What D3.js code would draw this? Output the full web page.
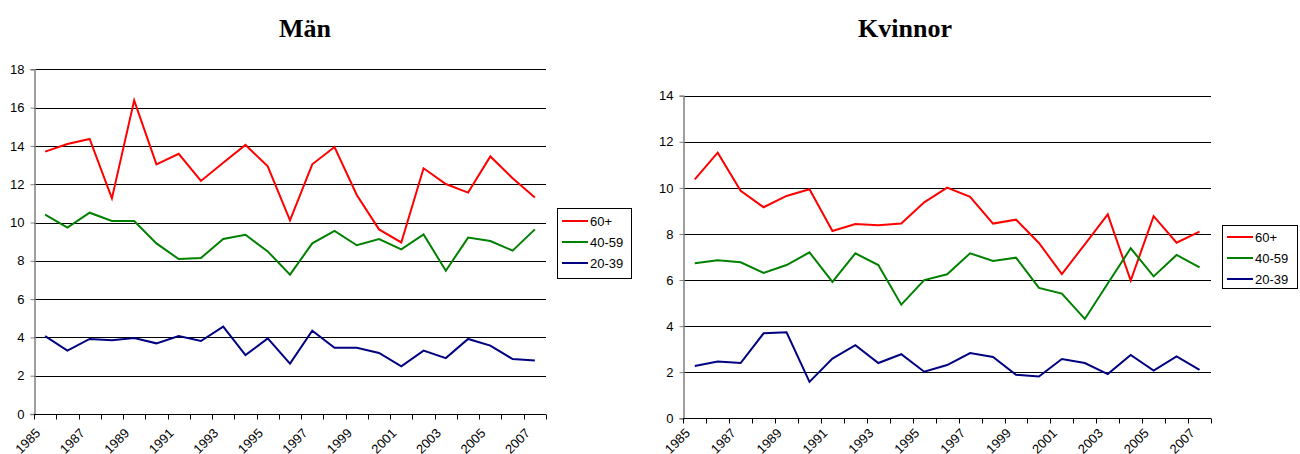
<!DOCTYPE html>
<html>
<head>
<meta charset="utf-8">
<script src="https://cdn.jsdelivr.net/npm/d3@7"></script>
<style>
  html, body { margin: 0; padding: 0; background: #fff; }
  svg { display: block; }
  text { font-family: "Liberation Sans", Arial, sans-serif; }
  .title { font-family: "Liberation Serif", "Times New Roman", serif; font-weight: bold; }
</style>
</head>
<body>
<svg id="chart" width="1300" height="454"></svg>
<script>
// Years on the category axis
const years = [1985, 1986, 1987, 1988, 1989, 1990, 1991, 1992, 1993, 1994, 1995, 1996,
               1997, 1998, 1999, 2000, 2001, 2002, 2003, 2004, 2005, 2006, 2007];
// Labels shown under the axis (every second year)
const yearLabels = [1985, 1987, 1989, 1991, 1993, 1995, 1997, 1999, 2001, 2003, 2005, 2007];

const seriesNames = ["60+", "40-59", "20-39"];
const seriesColors = ["#ff0000", "#008000", "#000080"];

// Män
const men60 = [13.70, 14.10, 14.36, 11.26, 16.38, 13.04, 13.59, 12.17, 13.12, 14.05, 12.93, 10.11,
               13.04, 13.94, 11.44, 9.64, 8.96, 12.83, 12.01, 11.56, 13.45, 12.31, 11.30];
const men40 = [10.41, 9.73, 10.51, 10.08, 10.08, 8.91, 8.09, 8.15, 9.14, 9.36, 8.49, 7.28,
               8.91, 9.56, 8.81, 9.14, 8.60, 9.38, 7.48, 9.21, 9.03, 8.53, 9.64];
const men20 = [4.07, 3.31, 3.92, 3.85, 3.97, 3.69, 4.07, 3.81, 4.56, 3.08, 3.95, 2.63,
               4.35, 3.46, 3.46, 3.19, 2.49, 3.31, 2.92, 3.92, 3.57, 2.87, 2.80];
const menTicks = [0, 2, 4, 6, 8, 10, 12, 14, 16, 18];

// Kvinnor
const women60 = [10.37, 11.53, 9.87, 9.16, 9.65, 9.94, 8.13, 8.43, 8.38, 8.45, 9.37, 10.01,
                 9.61, 8.45, 8.62, 7.61, 6.26, 7.55, 8.85, 5.98, 8.77, 7.62, 8.10];
const women40 = [6.73, 6.86, 6.77, 6.31, 6.65, 7.20, 5.92, 7.16, 6.65, 4.93, 6.00, 6.25,
                 7.16, 6.83, 6.97, 5.66, 5.41, 4.31, 5.85, 7.38, 6.16, 7.09, 6.55];
const women20 = [2.27, 2.46, 2.40, 3.69, 3.73, 1.58, 2.59, 3.17, 2.40, 2.78, 2.02, 2.31,
                 2.83, 2.66, 1.89, 1.81, 2.57, 2.40, 1.92, 2.75, 2.07, 2.69, 2.10];
const womenTicks = [0, 2, 4, 6, 8, 10, 12, 14];

const svg = d3.select("#chart");
const labelBaseY = 434;

function drawPanel(p) {
  const g = svg.append("g");

  const x = d3.scaleBand().domain(years).range([p.left, p.right]).paddingInner(0).paddingOuter(0);
  const y = d3.scaleLinear().domain([0, d3.max(p.ticks)]).range([p.bottom, p.top]);
  const cx = d => x(d) + x.bandwidth() / 2;

  // title
  g.append("text").attr("class", "title")
    .attr("x", p.titleX).attr("y", 37)
    .attr("text-anchor", "middle")
    .attr("font-size", 26)
    .text(p.title);

  // horizontal gridlines
  g.selectAll("line.grid").data(p.ticks.filter(t => t > 0)).join("line")
    .attr("class", "grid")
    .attr("x1", p.left).attr("x2", p.right)
    .attr("y1", d => Math.round(y(d)) + 0.5).attr("y2", d => Math.round(y(d)) + 0.5)
    .attr("stroke", "#000").attr("stroke-width", 1);

  // y axis
  const yAxis = d3.axisLeft(y).tickValues(p.ticks).tickSize(4).tickPadding(6).tickFormat(d3.format("d"));
  const ya = g.append("g").attr("transform", `translate(${Math.round(p.left) + 0.5},0)`).call(yAxis);
  ya.select(".domain").attr("stroke", "#808080").attr("stroke-width", 1.5);
  ya.selectAll(".tick line").attr("stroke", "#808080");
  ya.selectAll(".tick text").attr("font-size", 13).attr("fill", "#000")
    .attr("font-family", "'Liberation Sans', Arial, sans-serif");

  // x axis baseline and tick marks on category boundaries
  const y0 = Math.round(y(0)) + 0.5;
  g.append("line").attr("x1", p.left).attr("x2", p.right).attr("y1", y0).attr("y2", y0)
    .attr("stroke", "#000").attr("stroke-width", 1);
  const bounds = years.map(d => x(d)).concat([p.right]);
  g.selectAll("line.xt").data(bounds).join("line")
    .attr("class", "xt")
    .attr("x1", d => Math.round(d) + 0.5).attr("x2", d => Math.round(d) + 0.5)
    .attr("y1", y0).attr("y2", y0 + 5)
    .attr("stroke", "#000");

  // rotated year labels
  g.selectAll("text.xl").data(yearLabels).join("text")
    .attr("class", "xl")
    .attr("font-size", 13)
    .attr("text-anchor", "end")
    .attr("transform", d => `translate(${cx(d) - 4},${labelBaseY}) rotate(-45)`)
    .text(d => d);

  // series lines
  const line = d3.line().x((d, i) => cx(years[i])).y(d => y(d));
  p.series.forEach((s, i) => {
    g.append("path").datum(s)
      .attr("fill", "none")
      .attr("stroke", seriesColors[i])
      .attr("stroke-width", 2)
      .attr("stroke-linejoin", "miter")
      .attr("d", line);
  });

  // legend
  const lg = g.append("g");
  lg.append("rect")
    .attr("x", p.legend.x + 0.5).attr("y", p.legend.y + 0.5)
    .attr("width", p.legend.w).attr("height", p.legend.h)
    .attr("fill", "#fff").attr("stroke", "#000").attr("stroke-width", 1);
  seriesNames.forEach((name, i) => {
    const ly = p.legend.y + p.legend.first + i * p.legend.step;
    lg.append("line")
      .attr("x1", p.legend.x + 5).attr("x2", p.legend.x + 31)
      .attr("y1", ly).attr("y2", ly)
      .attr("stroke", seriesColors[i]).attr("stroke-width", 2);
    lg.append("text")
      .attr("x", p.legend.x + 33).attr("y", ly + 5)
      .attr("font-size", 13)
      .text(name);
  });
}

drawPanel({
  title: "Män", titleX: 305,
  left: 34, right: 546, top: 69.3, bottom: 414,
  ticks: menTicks,
  series: [men60, men40, men20],
  legend: { x: 557, y: 208, w: 74, h: 70, first: 13, step: 21 }
});

drawPanel({
  title: "Kvinnor", titleX: 905,
  left: 683.3, right: 1211, top: 95.7, bottom: 418.3,
  ticks: womenTicks,
  series: [women60, women40, women20],
  legend: { x: 1222, y: 225, w: 75, h: 63, first: 12, step: 21 }
});
</script>
</body>
</html>
